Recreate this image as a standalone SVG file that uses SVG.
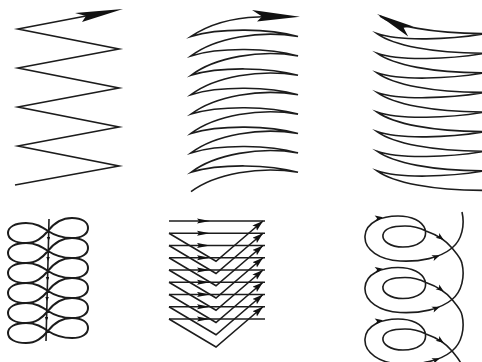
<svg xmlns="http://www.w3.org/2000/svg" width="482" height="362" viewBox="0 0 482 362">
<style>
.ln{fill:none;stroke:#1c1c1c;stroke-width:1.6;stroke-linejoin:miter;stroke-miterlimit:12}
.th{stroke-width:2}
.fl{fill:#111;stroke:none}
</style>
<defs>
<marker id="harr" markerUnits="userSpaceOnUse" markerWidth="14" markerHeight="8" refX="13" refY="3" orient="auto"><path d="M0,0.4 L13,3 L0,5.6 L2,3 Z" fill="#111"/></marker>
<marker id="varr" markerUnits="userSpaceOnUse" markerWidth="12" markerHeight="8" refX="11" refY="3.5" orient="auto"><path d="M0,0 L11,3.5 L0,7 L2,3.5 Z" fill="#111"/></marker>
<marker id="sarr" markerUnits="userSpaceOnUse" markerWidth="6" markerHeight="5" refX="4" refY="1.8" orient="auto"><path d="M0,0 L4,1.8 L0,3.6 Z" fill="#111"/></marker>
<path id="ah6" d="M1,0 L-7,-3 L-5,0 L-7,3 Z"/>
<path id="eight" d="M48,0 C54,-8 62,-13 72,-13 C82,-13 88,-9 88,-3 C88,3 82,7 72,7 C62,7 54,4 48,0 C42,-4 36,-8 26,-8 C15,-8 8,-4 8,2 C8,8 15,12 26,12 C36,12 42,7 48,0 Z"/>
</defs>

<g id="zigzag">
<polyline class="ln" points="15,185 119,166 18,146 119,127 18,107 119,88 18,68 119,49 18,29 86,16"/>
<polygon class="fl" points="123,9 75,13 86,16 82,22"/>
</g>

<g id="arcs-up">
<path class="ln" d="M191,191.7 C215,173.7 260,165.7 298,172.3 C270,164.3 220,163.3 191,172.3
C215,154.3 260,146.3 298,152.9 C270,144.9 220,143.9 191,152.9
C215,134.9 260,126.9 298,133.5 C270,125.5 220,124.5 191,133.5
C215,115.5 260,107.5 298,114.1 C270,106.1 220,105.1 191,114.1
C215,96.1 260,88.1 298,94.7 C270,86.7 220,85.7 191,94.7
C215,76.7 260,68.7 298,75.3 C270,67.3 220,66.3 191,75.3
C215,57.3 260,49.3 298,55.9 C270,47.9 220,46.9 191,55.9
C215,37.9 260,29.9 298,36.5 C270,28.5 220,27.5 191,36.5
C205,27 228,18 258,17 L262,16.8"/>
<polygon class="fl" points="300,16.8 252,10 262,16.5 257,21.5"/>
</g>

<g id="arcs-down">
<path class="ln" d="M485,190.4 C432,190.4 393,182.4 377,170.8 C400,178.8 450,176.8 485,170.8
C432,170.8 393,162.8 377,151.2 C400,159.2 450,157.2 485,151.2
C432,151.2 393,143.2 377,131.6 C400,139.6 450,137.6 485,131.6
C432,131.6 393,123.6 377,112 C400,120 450,118 485,112
C432,112 393,104 377,92.4 C400,100.4 450,98.4 485,92.4
C432,92.4 393,84.4 377,72.8 C400,80.8 450,78.8 485,72.8
C432,72.8 393,64.8 377,53.2 C400,61.2 450,59.2 485,53.2
C432,53.2 393,45.2 377,33.6 C400,41.6 450,39.6 485,33.6
C432,33.6 393,25.6 380,16"/>
<polygon class="fl" points="377,14 413.2,26.6 403.6,27.8 408.2,36.4"/>
</g>

<g id="figure-eights">
<g class="ln th">
<use href="#eight" transform="translate(0,231)"/>
<use href="#eight" transform="translate(0,251)"/>
<use href="#eight" transform="translate(0,271)"/>
<use href="#eight" transform="translate(0,291)"/>
<use href="#eight" transform="translate(0,311)"/>
<use href="#eight" transform="translate(0,331)"/>
</g>
<path class="ln" stroke-width="1.1" d="M49,219 L48.5,241 L48,261 L47.5,281 L47,301 L46.5,321 L46,341" marker-mid="url(#sarr)"/>
</g>

<g id="chevrons">
<g class="ln" stroke-width="1.5" marker-mid="url(#harr)">
<path d="M169,221 L210,221 L265,221"/>
<path d="M169,233.25 L210,233.25 L265,233.25"/>
<path d="M169,245.5 L210,245.5 L265,245.5"/>
<path d="M169,257.75 L210,257.75 L265,257.75"/>
<path d="M169,270 L210,270 L265,270"/>
<path d="M169,282.25 L210,282.25 L265,282.25"/>
<path d="M169,294.5 L210,294.5 L265,294.5"/>
<path d="M169,306.75 L210,306.75 L265,306.75"/>
<path d="M169,319 L210,319 L265,319"/>
</g>
<g class="ln" stroke-width="1.5" marker-end="url(#varr)">
<path d="M169,233.25 L216,261.25 L263,221"/>
<path d="M169,245.5 L216,273.5 L263,233.25"/>
<path d="M169,257.75 L216,285.75 L263,245.5"/>
<path d="M169,270 L216,298 L263,257.75"/>
<path d="M169,282.25 L216,310.25 L263,270"/>
<path d="M169,294.5 L216,322.5 L263,282.25"/>
<path d="M169,306.75 L216,334.75 L263,294.5"/>
<path d="M169,319 L216,347 L263,306.75"/>
</g>
</g>

<g id="loops">
<path class="ln" stroke-width="1.8" d="M462,212 C465,225 462,240 452,248
C440,258 420,262 400,261 C380,260 364,250 365,236 C366,222 382,216 398,216 C412,216 422,221 425,229
C428,240 418,247 403,247 C390,247 382,241 383,235 C384,228 395,226 405,226 C415,226 420,228 426,231
C440,236 448,243 452,248 C457,254 461,258 462,263.5
C465,276.5 462,291.5 452,299.5
C440,309.5 420,313.5 400,312.5 C380,311.5 364,301.5 365,287.5 C366,273.5 382,267.5 398,267.5 C412,267.5 422,272.5 425,280.5
C428,291.5 418,298.5 403,298.5 C390,298.5 382,292.5 383,286.5 C384,279.5 395,277.5 405,277.5 C415,277.5 420,279.5 426,282.5
C440,287.5 448,294.5 452,299.5 C457,305.5 461,309.5 462,315
C465,328 462,343 452,351
C440,361 420,365 400,364 C380,363 364,353 365,339 C366,325 382,319 398,319 C412,319 422,324 425,332
C428,343 418,350 403,350 C390,350 382,344 383,338 C384,331 395,329 405,329 C415,329 420,331 426,334
C440,339 448,346 452,351 C457,357 461,361 462,366.5 L462,375"/>
<g class="fl">
<use href="#ah6" transform="translate(382,217.5) rotate(-8)"/>
<use href="#ah6" transform="translate(443,239.5) rotate(37)"/>
<use href="#ah6" transform="translate(439,255.5) rotate(-22)"/>
<use href="#ah6" transform="translate(382,269) rotate(-8)"/>
<use href="#ah6" transform="translate(443,291) rotate(37)"/>
<use href="#ah6" transform="translate(439,307) rotate(-22)"/>
<use href="#ah6" transform="translate(382,320.5) rotate(-8)"/>
<use href="#ah6" transform="translate(443,342.5) rotate(37)"/>
<use href="#ah6" transform="translate(439,358.5) rotate(-22)"/>
</g>
</g>
</svg>
